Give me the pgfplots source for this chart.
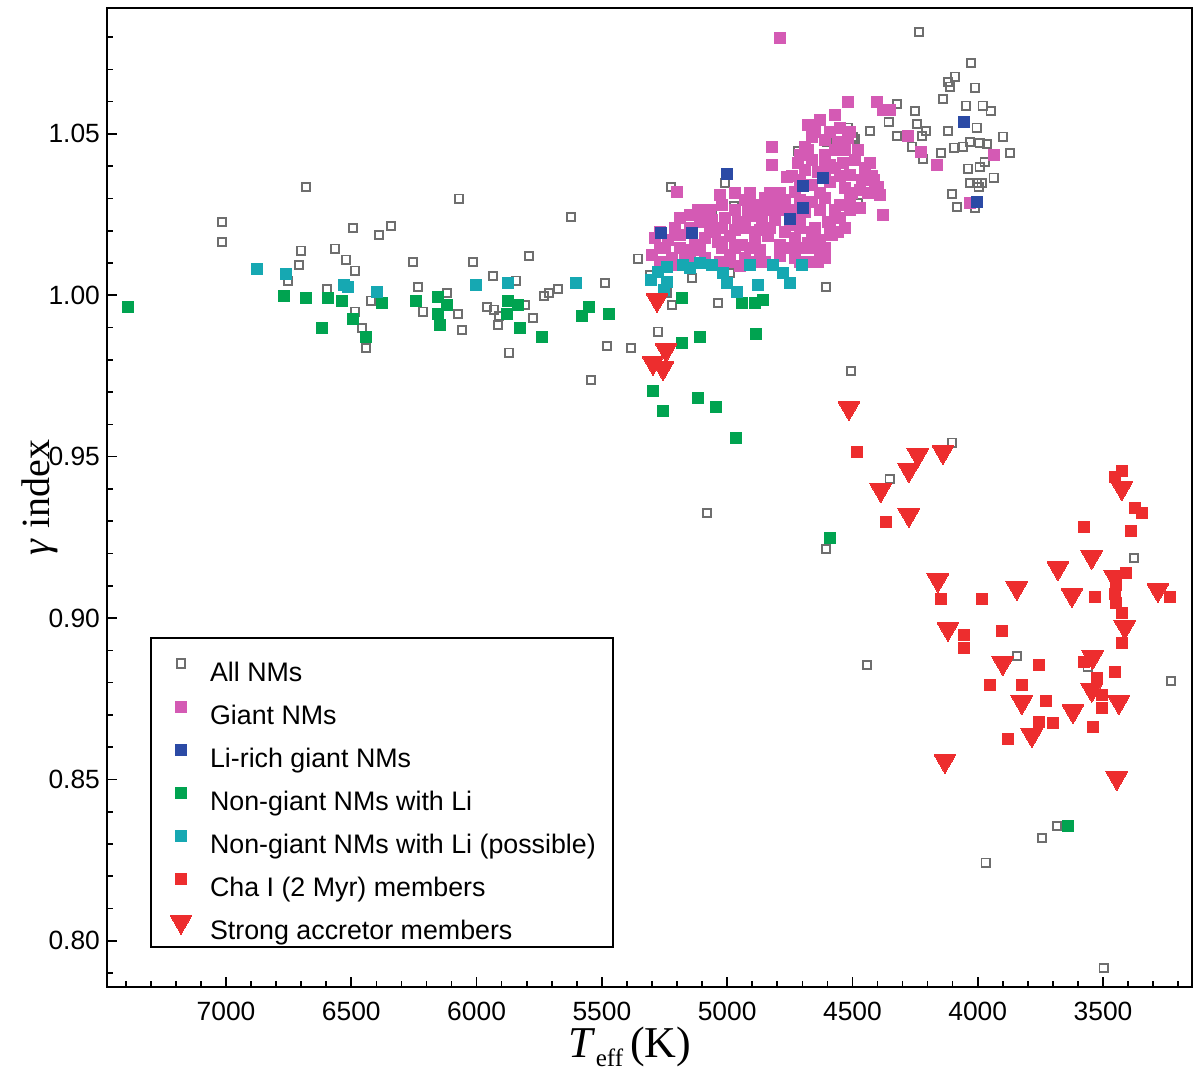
\documentclass[border=0pt]{standalone}
\usepackage{fontspec}
\setmainfont{Liberation Sans}
\newfontfamily\seriffont{Liberation Serif}
\usepackage{pgfplots}
\pgfplotsset{compat=1.18}
\definecolor{greyc}{RGB}{110,110,110}
\definecolor{pinkc}{RGB}{212,90,180}
\definecolor{bluec}{RGB}{43,74,165}
\definecolor{greenc}{RGB}{0,163,80}
\definecolor{cyanc}{RGB}{22,168,178}
\definecolor{redc}{RGB}{237,45,46}
\begin{document}
\begin{tikzpicture}
\begin{axis}[name=ax,
  scale only axis, width=542.5pt, height=489.5pt,
  x dir=reverse, xmin=3145, xmax=7475, ymin=0.7857, ymax=1.089,
  xtick={3500,4000,4500,5000,5500,6000,6500,7000},
  minor xtick={3200,3300,3400,3600,3700,3800,3900,4100,4200,4300,4400,4600,4700,4800,4900,5100,5200,5300,5400,5600,5700,5800,5900,6100,6200,6300,6400,6600,6700,6800,6900,7100,7200,7300,7400},
  ytick={0.80,0.85,0.90,0.95,1.00,1.05},
  minor ytick={0.79,0.81,0.82,0.83,0.84,0.86,0.87,0.88,0.89,0.91,0.92,0.93,0.94,0.96,0.97,0.98,0.99,1.01,1.02,1.03,1.04,1.06,1.07,1.08},
  yticklabel style={/pgf/number format/.cd,fixed,fixed zerofill,precision=2},
  xticklabel style={/pgf/number format/.cd,set thousands separator={}},
  /pgf/number format/assume math mode=true,
  tick label style={font=\fontsize{13.2}{15}\selectfont},
  xticklabel shift=4pt,
  tick align=inside, xtick pos=bottom, ytick pos=left,
  major tick length=5pt, minor tick length=3pt,
  every tick/.style={black, line width=0.8pt},
  axis line style={line width=1.2pt},
  xlabel={{\seriffont\fontsize{22}{26}\selectfont\textit{T}\raisebox{-4.5pt}{\fontsize{12.5}{14}\selectfont eff}\hspace{3.5pt}(K)}},
  ylabel={{\seriffont\fontsize{20}{24}\selectfont\textit{γ} index}},
  xlabel style={at={(axis description cs:0.482,-0.0715)}, anchor=base},
  ylabel style={at={(axis description cs:-0.0618,0.5)}, anchor=center, rotate=0},
  legend cell align=left,
  legend style={at={(0.0396,0.3575)}, anchor=north west, draw=black, line width=1pt,
    font=\fontsize{13.4}{15}\selectfont, inner xsep=6.5pt, inner ysep=2pt,
    nodes={inner sep=2pt, text height=17.5pt, text depth=0pt},
    row sep=0pt, /tikz/every odd column/.append style={column sep=4pt}},
  legend image code/.code={\pgfpathrectangle{\pgfpointorigin}{\pgfpoint{0.6cm}{0pt}}\pgfusepath{discard}
    \draw[mark repeat=2,mark phase=2] plot coordinates {(0cm,0cm) (0.3cm,0cm) (0.6cm,0cm)};},
]
\addplot[only marks, mark=square, mark size=2.1pt, mark options={draw=greyc, line width=0.9pt}] table {
6681 1.0336
7016 1.0227
7016 1.0165
6493 1.0209
6389 1.0187
6342 1.0215
6701 1.0138
6565 1.0144
6521 1.0110
6709 1.0094
6485 1.0076
6753 1.0045
6597 1.0020
6421 0.9983
6485 0.9949
6457 0.9899
6441 0.9837
6070 1.0299
5623 1.0243
6254 1.0103
6014 1.0103
5791 1.0122
5935 1.0060
5843 1.0045
6234 1.0026
6118 1.0007
5488 1.0038
5356 1.0113
5675 1.0020
5711 1.0007
5731 0.9998
6214 0.9949
6074 0.9942
5959 0.9964
5931 0.9955
5911 0.9936
5807 0.9970
5775 0.9930
5915 0.9908
6058 0.9893
5871 0.9822
5480 0.9843
5384 0.9837
5276 0.9887
5220 0.9970
5544 0.9738
5224 1.0336
5308 1.0063
5240 1.0007
5009 1.0348
5141 1.0054
4606 1.0026
5037 0.9976
4478 1.0286
4430 1.0509
4323 1.0593
4718 1.0447
4518 1.0519
4490 1.0485
4602 1.0475
4829 1.0305
4973 1.0277
5061 1.0249
4949 1.0227
4989 1.0069
4235 1.0816
4027 1.0720
4091 1.0677
4119 1.0661
4111 1.0646
4011 1.0643
4139 1.0608
4047 1.0587
3980 1.0587
3948 1.0571
4251 1.0571
4355 1.0537
4243 1.0531
4207 1.0509
4223 1.0494
4119 1.0509
4323 1.0494
4263 1.0460
4219 1.0423
4147 1.0441
4095 1.0457
4059 1.0460
4031 1.0475
4004 1.0519
3992 1.0472
3964 1.0469
3900 1.0491
3872 1.0441
3972 1.0413
3992 1.0398
4039 1.0392
3936 1.0364
4031 1.0348
4004 1.0348
3984 1.0348
3996 1.0336
4103 1.0314
4083 1.0274
4011 1.0271
4498 1.0491
4506 0.9766
4103 0.9543
4351 0.9431
4606 0.9214
3377 0.9186
3844 0.8883
3561 0.8849
3229 0.8805
4442 0.8855
5081 0.9326
3968 0.8242
3744 0.8319
3684 0.8356
3497 0.7916
};
\addlegendentry{All NMs}
\addplot[only marks, mark=square*, mark size=2.75pt, mark options={draw=pinkc, fill=pinkc, line width=0pt}] table {
4790 1.0797
4518 1.0599
4402 1.0599
4378 1.0574
4351 1.0574
4821 1.0460
4821 1.0404
4762 1.0367
5200 1.0320
5117 1.0265
4378 1.0249
4398 1.0336
4279 1.0494
4227 1.0444
4163 1.0404
3936 1.0435
4031 1.0286
4414 1.0358
4678 1.0528
4630 1.0543
4570 1.0559
4550 1.0519
4662 1.0491
4610 1.0481
4558 1.0475
4690 1.0460
4710 1.0435
4662 1.0419
4610 1.0435
4530 1.0450
4490 1.0419
4450 1.0395
4690 1.0388
4638 1.0382
4570 1.0395
4510 1.0373
4462 1.0358
4710 1.0358
4662 1.0342
4590 1.0351
4530 1.0333
4470 1.0327
4410 1.0333
4390 1.0311
4730 1.0320
5029 1.0311
5021 1.0280
4929 1.0296
4889 1.0280
4849 1.0302
4810 1.0280
4770 1.0296
4710 1.0296
4662 1.0289
4610 1.0302
4550 1.0280
4510 1.0296
4470 1.0271
4969 1.0265
5189 1.0240
5149 1.0249
5109 1.0227
5061 1.0234
5009 1.0240
4957 1.0227
4909 1.0246
4861 1.0227
4810 1.0234
4750 1.0218
4710 1.0234
4650 1.0209
4598 1.0227
4550 1.0240
4530 1.0209
5288 1.0178
5236 1.0172
5189 1.0187
5129 1.0156
5089 1.0178
5037 1.0165
4989 1.0184
4941 1.0156
4889 1.0172
4837 1.0184
4790 1.0156
4730 1.0178
4678 1.0162
4630 1.0172
4582 1.0187
5109 1.0141
4869 1.0141
5300 1.0125
5268 1.0104
5220 1.0116
5169 1.0125
5089 1.0116
5029 1.0104
4929 1.0116
4849 1.0104
4790 1.0122
4730 1.0116
4670 1.0104
4610 1.0116
5208 1.0094
4949 1.0091
5069 1.0203
4869 1.0203
4630 1.0265
4750 1.0265
4969 1.0203
4769 1.0196
5149 1.0141
4989 1.0125
4829 1.0265
4690 1.0258
4590 1.0404
4518 1.0488
5268 1.0147
4630 1.0141
4650 1.0506
4590 1.0506
4510 1.0506
4678 1.0450
4570 1.0450
4478 1.0450
4718 1.0410
4610 1.0410
4538 1.0410
4430 1.0410
4742 1.0370
4610 1.0370
4550 1.0370
4422 1.0370
4969 1.0317
4909 1.0317
4829 1.0317
4789 1.0317
4630 1.0317
4502 1.0317
4438 1.0317
5069 1.0265
4917 1.0265
4869 1.0265
4789 1.0265
4710 1.0265
4570 1.0265
4510 1.0265
5208 1.0209
5149 1.0209
5021 1.0209
4929 1.0209
4829 1.0209
4710 1.0209
4590 1.0209
5268 1.0196
5049 1.0196
4889 1.0196
4662 1.0196
4558 1.0196
5248 1.0147
5188 1.0147
5021 1.0147
4969 1.0147
4909 1.0147
4750 1.0147
4710 1.0147
4662 1.0147
4610 1.0147
5149 1.0104
4989 1.0104
4889 1.0104
4710 1.0104
4638 1.0104
};
\addlegendentry{Giant NMs}
\addplot[only marks, mark=square*, mark size=2.75pt, mark options={draw=bluec, fill=bluec, line width=0pt}] table {
5001 1.0376
5264 1.0193
5141 1.0193
4698 1.0339
4618 1.0364
4698 1.0271
4750 1.0237
4055 1.0537
4004 1.0289
};
\addlegendentry{Li-rich giant NMs}
\addplot[only marks, mark=square*, mark size=2.75pt, mark options={draw=greenc, fill=greenc, line width=0pt}] table {
7391 0.9964
6769 0.9998
6681 0.9992
6593 0.9992
6537 0.9983
6378 0.9976
6617 0.9899
6493 0.9927
6441 0.9871
6242 0.9983
6154 0.9995
6118 0.9970
6154 0.9942
6146 0.9908
5875 0.9983
5835 0.9970
5879 0.9942
5827 0.9899
5739 0.9871
5552 0.9964
5580 0.9936
5472 0.9942
5181 0.9992
5181 0.9853
5296 0.9704
5256 0.9642
4941 0.9976
4889 0.9976
4857 0.9986
5109 0.9871
4885 0.9880
5117 0.9682
5045 0.9654
4965 0.9558
4590 0.9248
3640 0.8356
};
\addlegendentry{Non-giant NMs with Li}
\addplot[only marks, mark=square*, mark size=2.75pt, mark options={draw=cyanc, fill=cyanc, line width=0pt}] table {
6876 1.0082
6761 1.0066
6529 1.0032
6513 1.0026
6398 1.0011
6002 1.0032
5875 1.0038
5603 1.0038
5304 1.0048
5252 1.0017
5240 1.0088
5177 1.0094
5149 1.0085
5109 1.0100
5240 1.0042
5017 1.0069
5001 1.0038
4961 1.0011
4909 1.0094
4877 1.0032
4817 1.0094
4778 1.0069
4750 1.0038
4702 1.0094
5276 1.0072
5061 1.0094
};
\addlegendentry{Non-giant NMs with Li (possible)}
\addplot[only marks, mark=square*, mark size=2.75pt, mark options={draw=redc, fill=redc, line width=0pt}] table {
4482 0.9515
4367 0.9298
3425 0.9456
3453 0.9437
3373 0.9341
3345 0.9326
3577 0.9283
3389 0.9270
3533 0.9066
3233 0.9066
3904 0.8960
3409 0.9140
3449 0.9103
3453 0.9075
3449 0.9047
3425 0.9016
3425 0.8923
4147 0.9059
3984 0.9059
4055 0.8948
4055 0.8908
3756 0.8855
3577 0.8864
3453 0.8833
3952 0.8793
3824 0.8793
3525 0.8815
3505 0.8762
3505 0.8722
3728 0.8743
3756 0.8678
3700 0.8675
3541 0.8663
3880 0.8626
};
\addlegendentry{Cha I (2 Myr) members}
\addplot[only marks, mark=triangle*, mark size=6.3pt, mark options={rotate=180, draw=redc, fill=redc, line width=0pt}] table {
5280 0.9986
5244 0.9831
5296 0.9791
5256 0.9775
4514 0.9651
4239 0.9506
4139 0.9515
4275 0.9459
4387 0.9397
4275 0.9320
4159 0.9118
3425 0.9403
3545 0.9190
3680 0.9155
3844 0.9094
3624 0.9072
3281 0.9087
3413 0.8973
3453 0.9128
4119 0.8967
3900 0.8861
3541 0.8880
3824 0.8740
3620 0.8712
3545 0.8778
3437 0.8740
3784 0.8638
4131 0.8558
3445 0.8505
};
\addlegendentry{Strong accretor members}
\end{axis}
\pgfresetboundingbox
\useasboundingbox ([shift={(-53.5pt,-42pt)}]ax.south west) rectangle ([shift={(4pt,4pt)}]ax.north east);
\end{tikzpicture}
\end{document}
